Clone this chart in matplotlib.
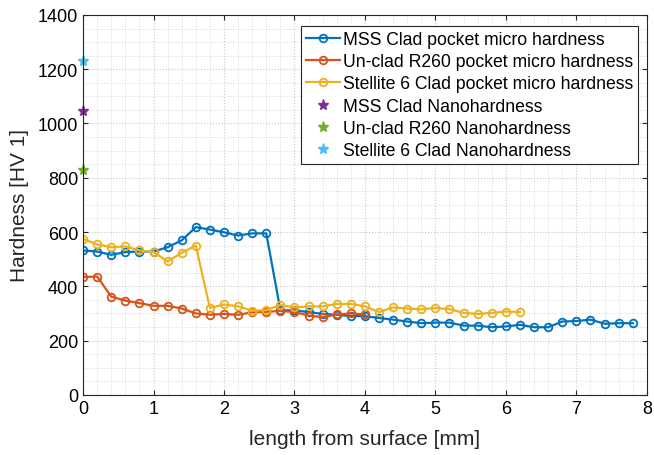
import matplotlib
matplotlib.use("Agg")
import matplotlib.pyplot as plt
from matplotlib.ticker import MultipleLocator
import numpy as np

plt.rcParams["font.family"] = ["Liberation Sans", "DejaVu Sans"]

# Micro hardness profiles (x step 0.2 mm)
mss_x = np.round(np.arange(0, 7.81, 0.2), 1)
mss_hv = [532, 528, 516, 526, 528, 528, 544, 569, 618, 609,
          599, 587, 595, 595, 312, 311, 305, 298, 295, 290,
          290, 283, 277, 270, 264, 266, 266, 255, 255, 249,
          252, 258, 249, 249, 270, 272, 277, 262, 264, 264]

r260_x = np.round(np.arange(0, 4.01, 0.2), 1)
r260_hv = [434, 436, 362, 347, 338, 328, 328, 318, 300, 295,
           298, 295, 304, 306, 309, 305, 292, 286, 296, 300, 296]

st6_x = np.round(np.arange(0, 6.21, 0.2), 1)
st6_hv = [575, 554, 544, 547, 532, 526, 492, 523, 550, 320,
          333, 326, 310, 312, 331, 322, 326, 326, 335, 335,
          326, 305, 322, 318, 315, 320, 316, 302, 298, 302,
          307, 305]

# Nanohardness (single values at surface)
nano_labels = ["MSS Clad Nanohardness", "Un-clad R260 Nanohardness",
               "Stellite 6 Clad Nanohardness"]
nano_hv = [1045, 830, 1230]

fig = plt.figure(figsize=(6.54, 4.56), dpi=100)
ax = fig.add_axes([0.127, 0.132, 0.862, 0.833])

line_kw = dict(marker="o", mfc="none", ms=5.5, mew=1.3, lw=1.6)
ax.plot(mss_x, mss_hv, color="#0072BD", label="MSS Clad pocket micro hardness", **line_kw)
ax.plot(r260_x, r260_hv, color="#D95319", label="Un-clad R260 pocket micro hardness", **line_kw)
ax.plot(st6_x, st6_hv, color="#EDB120", label="Stellite 6 Clad pocket micro hardness", **line_kw)

star_colors = ["#7E2F8E", "#77AC30", "#4DBEEE"]
for lab, v, c in zip(nano_labels, nano_hv, star_colors):
    ax.plot([0], [v], linestyle="none", marker="*", ms=8, color=c, label=lab, clip_on=False)

ax.set_xlim(0, 8)
ax.set_ylim(0, 1400)
ax.xaxis.set_major_locator(MultipleLocator(1))
ax.xaxis.set_minor_locator(MultipleLocator(0.2))
ax.yaxis.set_major_locator(MultipleLocator(200))
ax.yaxis.set_minor_locator(MultipleLocator(50))
ax.grid(which="major", color="#c8c8c8", linestyle=":", linewidth=0.8)
ax.grid(which="minor", color="#d8d8d8", linestyle=":", linewidth=0.7)
ax.set_axisbelow(True)
ax.tick_params(which="both", direction="in", top=True, right=True, labelsize=13, color="#262626")
ax.tick_params(which="minor", length=0)
for s in ax.spines.values():
    s.set_color("#262626")
    s.set_linewidth(0.8)

ax.set_xlabel("length from surface [mm]", fontsize=15, color="#262626", labelpad=9)
ax.set_ylabel("Hardness [HV 1]", fontsize=15, color="#262626", labelpad=6)

leg = ax.legend(loc="upper right", fontsize=12.7, frameon=True, fancybox=False,
                edgecolor="#262626", framealpha=1, handlelength=1.9,
                handletextpad=0.15, borderpad=0.28, labelspacing=0.3,
                borderaxespad=0, bbox_to_anchor=(0.984, 0.971))
leg.get_frame().set_linewidth(0.8)

fig.savefig("out.png", dpi=100)
